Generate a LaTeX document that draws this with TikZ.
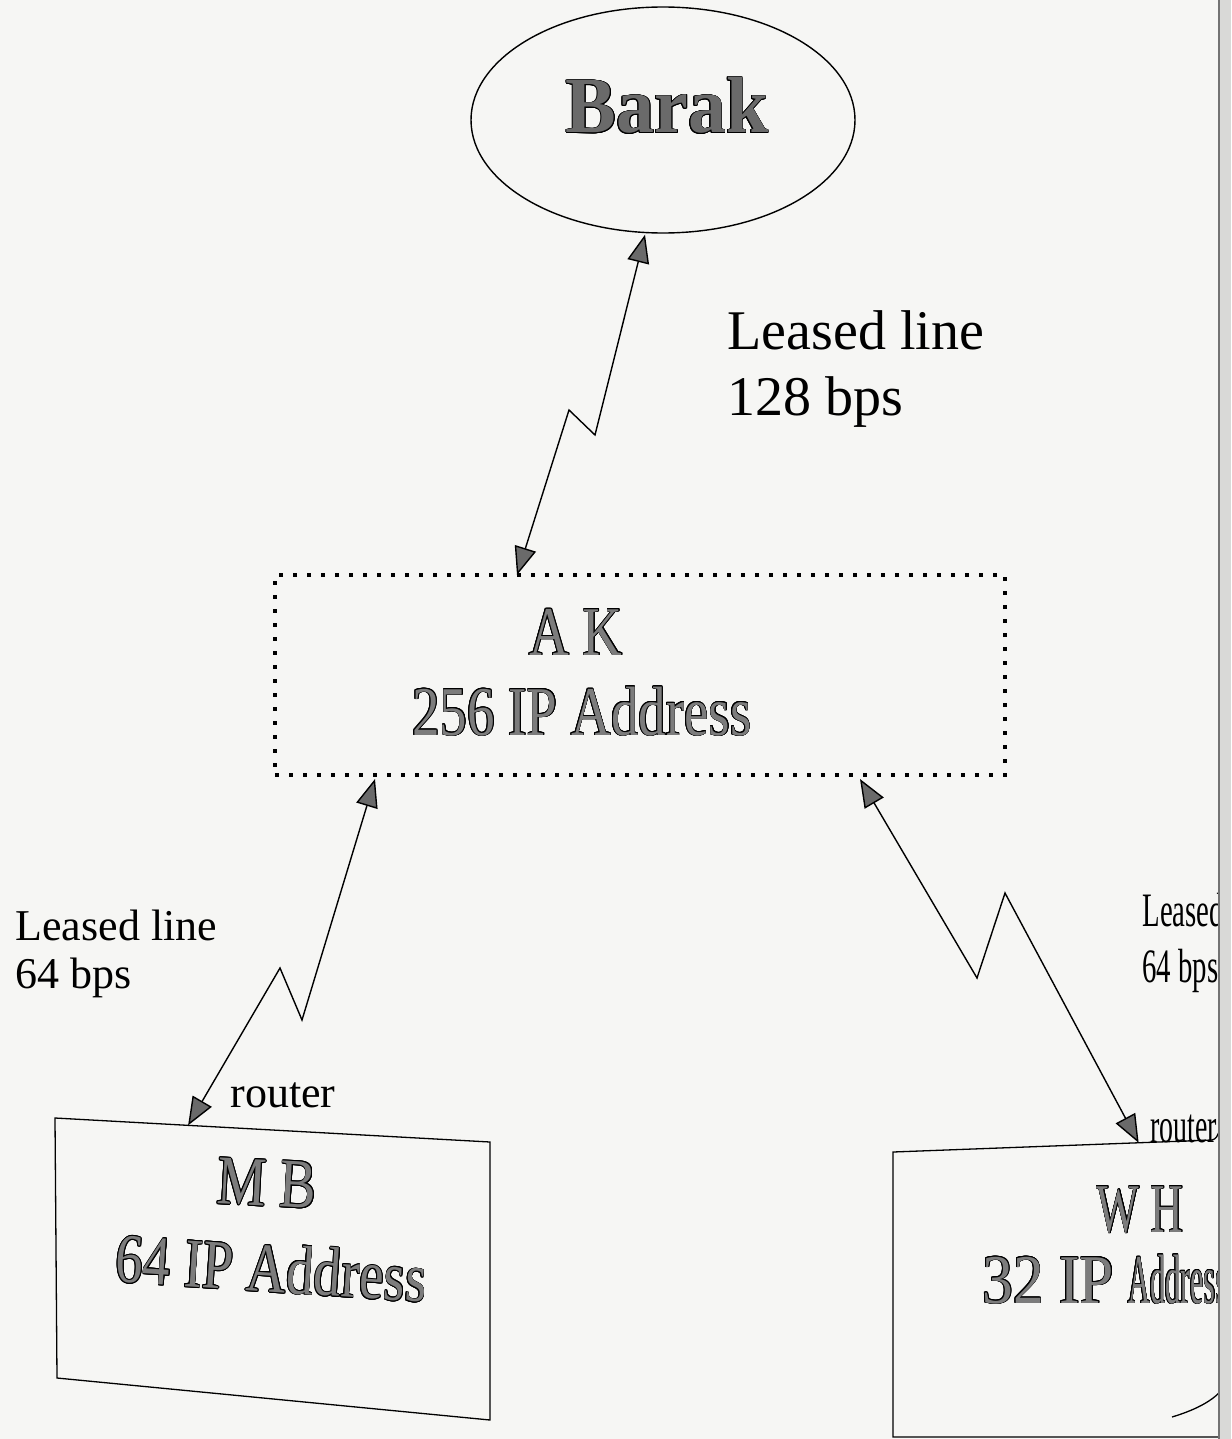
\documentclass[tikz,border=0pt]{standalone}
\usepackage{fontspec}
\setmainfont{Liberation Serif}
\usepackage{graphicx}
\usepackage{contour}
\usetikzlibrary{arrows.meta,shapes.geometric,calc}
\definecolor{paper}{HTML}{F6F6F4}
\definecolor{txtgray}{HTML}{7C7C7C}
\definecolor{headgray}{HTML}{6A6A6A}
\definecolor{tipgray}{HTML}{6A6A6A}
\definecolor{edgegray}{HTML}{D9D9D7}
\contourlength{0.35pt}
\contournumber{16}
\newcommand\graytxt[2][1]{\scalebox{#1}[1.27]{\color{txtgray}\contour{black}{#2}}}
\tikzset{
  link/.style={line width=0.7pt, black, line join=miter,
    {Triangle[length=14pt,width=11pt,fill=tipgray]}-{Triangle[length=14pt,width=11pt,fill=tipgray]}},
  boxtext/.style={font=\fontsize{27.5}{30}\selectfont, inner sep=0pt, anchor=base},
  plainlbl/.style={inner sep=0pt, align=left, black},
  sitebox/.style={line width=0.65pt, black},
  dotbox/.style={draw=black, line width=2pt, dash pattern=on 2pt off 5pt,
    rectangle, minimum width=365pt, minimum height=100pt, inner sep=0pt},
}
\begin{document}
\begin{tikzpicture}[x=0.5pt,y=-0.5pt]
\useasboundingbox (0,0) rectangle (1231,1439);
\fill[paper] (0,0) rectangle (1231,1439);

\begin{scope}
\clip (0,0) rectangle (1219,1439);

% Barak
\node[ellipse, draw, line width=0.7pt, minimum width=192pt, minimum height=113pt, inner sep=0pt] (barak) at (663,120) {};
\node[inner sep=0pt, anchor=base, font=\fontsize{38}{40}\selectfont\bfseries] (barakT) at (667,133)
  {\scalebox{1}[1.05]{\color{headgray}\contour{black}{Barak}}};

% AK
\node[dotbox] (ak) at (640,675) {};
\node[boxtext] (akT1) at (576,655) {\graytxt{A K}};
\node[boxtext] (akT2) at (582,735) {\graytxt{256 IP Address}};

% MB box
\coordinate (mbTL) at (55,1118);
\coordinate (mbTR) at (490,1142);
\coordinate (mbBR) at (490,1420);
\coordinate (mbBL) at (57,1378);
\draw[sitebox] (mbTL) -- (mbTR) -- (mbBR) -- (mbBL) -- cycle;
\coordinate (mbtip) at ($(mbTL)!0.306!(mbTR)$);
\node[boxtext, rotate=-3] (mbT1) at (266,1206) {\graytxt{M B}};
\node[boxtext, rotate=-3.8] (mbT2) at (270,1292) {\graytxt{64 IP Address}};

% WH box
\coordinate (whTL) at (893,1152);
\coordinate (whTR) at (1212,1140);
\coordinate (whBL) at (893,1437);
\draw[sitebox] (whTR) -- (whTL) -- (whBL) -- (1219,1437);
\draw[sitebox] (whTR) .. controls (1216,1139) and (1218,1136) .. (1220,1128);
\draw[sitebox] (1172,1417) .. controls (1195,1410) and (1210,1402) .. (1220,1392);
\coordinate (whtip) at ($(whTL)!0.77!(whTR)$);
\node[boxtext] (whT1) at (1140,1232) {\graytxt[0.82]{W H}};
\node[boxtext, anchor=base west] (whT2) at (982,1303) {\graytxt[1.12]{32 IP}\hspace{7pt}\graytxt[0.55]{Address}};

% labels
\node[plainlbl, anchor=north west, font=\fontsize{28}{33}\selectfont] (lbl128) at (727,310)
  {Leased line\\128 bps};
\node[plainlbl, anchor=north west, font=\fontsize{22}{24}\selectfont] (lbl64a) at (15,910)
  {Leased line\\64 bps};
\node[plainlbl, anchor=north west, font=\fontsize{24}{28}\selectfont] (lbl64b) at (1142,893)
  {\scalebox{0.6}[1]{Leased line}\\\scalebox{0.6}[1]{64 bps}};
\node[inner sep=0pt, anchor=base west, font=\fontsize{22}{24}\selectfont] (rtA) at (230,1107) {router};
\node[inner sep=0pt, anchor=base west, font=\fontsize{24.5}{26}\selectfont] (rtB) at (1150,1142) {\scalebox{0.57}[1]{router}};

% connectors (leased lines)
\draw[link] ($(barak.south)+(-18,1)$) -- (595,435) -- (569,410) -- ($(ak.north)+(-123,2)$);
\draw[link] ($(ak.south)+(-265,2)$) -- (302,1020) -- (280,968) -- (mbtip);
\draw[link] ($(ak.south)+(220,2)$) -- (977,978) -- (1005,893) -- (whtip);
\end{scope}

% page edge
\fill[edgegray] (1219,0) rectangle (1231,1439);
\draw[black!55, line width=0.6pt] (1219,0) -- (1219,1439);
\end{tikzpicture}
\end{document}
